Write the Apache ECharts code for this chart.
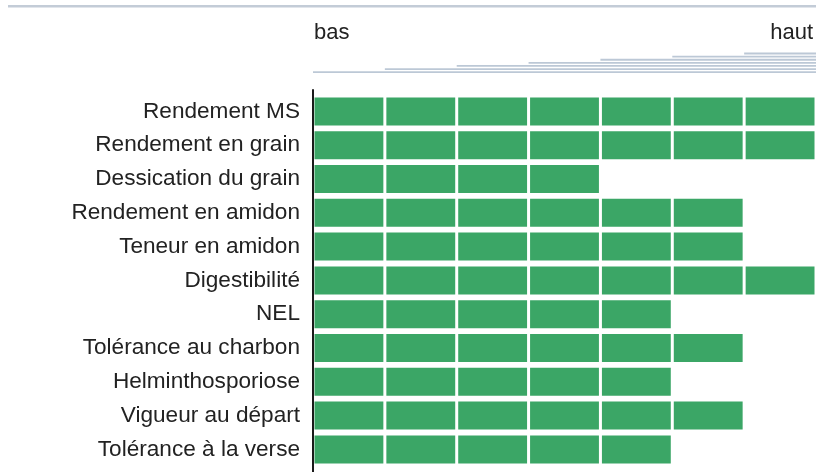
<!DOCTYPE html>
<html>
<head>
<meta charset="utf-8">
<script src="https://cdn.jsdelivr.net/npm/echarts@6/dist/echarts.min.js"></script>
<style>html,body{margin:0;padding:0;background:#fff;}#c{width:816px;height:472px;}</style>
</head>
<body>
<div id="c"></div>
<script>
var categories = ["Rendement MS","Rendement en grain","Dessication du grain","Rendement en amidon","Teneur en amidon","Digestibilité","NEL","Tolérance au charbon","Helminthosporiose","Vigueur au départ","Tolérance à la verse"];
var scores = [7,7,4,6,6,7,5,6,5,6,5];
var scaleMax = 7;
var scaleSteps = [0,1,2,3,4,5,6];
var lowLabel = "bas";
var highLabel = "haut";

var FONT = '"Liberation Sans", Arial, Helvetica, sans-serif';
var GREEN = '#3ba666';
var chart = echarts.init(document.getElementById('c'), null, {renderer:'canvas'});

var barData = scores.map(function(v,i){ return [i, v]; });

chart.setOption({
  animation: false,
  textStyle: {fontFamily: FONT},
  grid: [
    {left: 313, right: 0, top: 94.5, height: 371.8},
    {left: 313, right: 0, top: 90, bottom: 0},
    {left: 313, right: 0, top: 53.5, height: 18.7}
  ],
  xAxis: [
    {gridIndex: 0, type: 'value', min: 0, max: scaleMax, show: false},
    {gridIndex: 1, type: 'value', min: 0, max: scaleMax, show: false},
    {gridIndex: 2, type: 'value', min: 0, max: scaleMax, show: false}
  ],
  yAxis: [
    {gridIndex: 0, type: 'category', data: categories, inverse: true,
     axisLine: {show: false}, axisTick: {show: false}, splitLine: {show: false},
     axisLabel: {fontSize: 22.6, color: '#222', margin: 13, fontFamily: FONT}},
    {gridIndex: 1, type: 'value', min: 0, max: 1,
     axisLine: {show: true, lineStyle: {color: '#1a1a1a', width: 2}},
     axisTick: {show: false}, axisLabel: {show: false}, splitLine: {show: false}},
    {gridIndex: 2, type: 'value', min: 0, max: scaleSteps.length - 1, show: false}
  ],
  series: [
    {
      type: 'custom', xAxisIndex: 0, yAxisIndex: 0, data: barData,
      renderItem: function(params, api){
        var cat = api.value(0), v = api.value(1);
        var children = [];
        for (var i = 0; i < v; i++) {
          var a = api.coord([i, cat]), b = api.coord([i+1, cat]);
          children.push({type: 'rect', shape: {x: a[0]+1.5, y: a[1]-14, width: b[0]-a[0]-3, height: 28},
            style: {fill: GREEN}});
        }
        return {type: 'group', children: children};
      }
    },
    {
      type: 'custom', xAxisIndex: 2, yAxisIndex: 2, data: scaleSteps,
      renderItem: function(params, api){
        var k = api.value(0);
        var a = api.coord([k, k]), b = api.coord([scaleMax, k]);
        return {type: 'line', shape: {x1: a[0], y1: a[1], x2: b[0], y2: b[1]},
          style: {stroke: '#bcc8d6', lineWidth: 1.8}};
      }
    }
  ],
  graphic: [
    {type: 'line', shape: {x1: 8, y1: 6.3, x2: 816, y2: 6.3}, style: {stroke: '#c3ccd7', lineWidth: 2.4}},
    {type: 'text', left: 314, top: 22, style: {text: lowLabel, font: '22px ' + FONT, fill: '#222'}},
    {type: 'text', right: 3, top: 22, style: {text: highLabel, font: '22px ' + FONT, fill: '#222'}}
  ]
});
</script>
</body>
</html>
